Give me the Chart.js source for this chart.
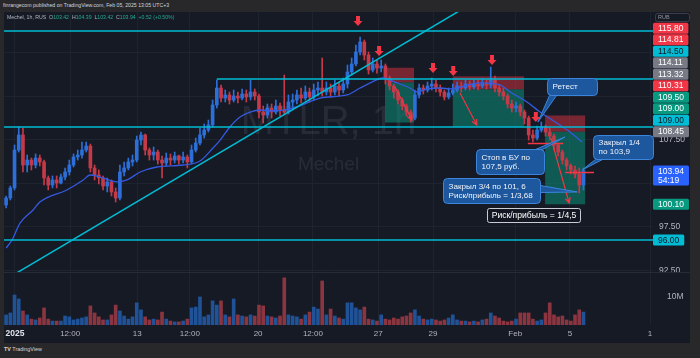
<!DOCTYPE html>
<html><head><meta charset="utf-8">
<script src="https://cdn.jsdelivr.net/npm/chart.js@4.4.1/dist/chart.umd.min.js"></script>
<style>
html,body{margin:0;padding:0;}
body{width:700px;height:358px;background:#28282b;position:relative;overflow:hidden;font-family:"Liberation Sans",Arial,sans-serif;}
#hdr{position:absolute;left:3px;top:1px;font-size:5.2px;color:#d1d4dc;line-height:9px;white-space:nowrap;}
#wrap{position:absolute;left:4px;top:12px;width:686px;height:331px;}
#c{display:block;width:686px;height:331px;}
#lg{position:absolute;left:7px;top:13px;font-size:5.2px;line-height:9px;color:#b2b5be;white-space:nowrap;}
#lg .v{color:#22ab94;}
#ft{position:absolute;left:4px;top:346px;font-size:5.4px;color:#d1d4dc;white-space:nowrap;}
</style></head>
<body>
<div id="hdr">finrangecom published on TradingView.com, Feb 05, 2025 13:05 UTC+3</div>
<div id="wrap"><canvas id="c" width="686" height="331"></canvas></div>
<div id="lg">Mechel, 1h, RUS&nbsp;&nbsp;O<span class="v">103.42</span>&nbsp;&nbsp;H<span class="v">104.39</span>&nbsp;&nbsp;L<span class="v">103.42</span>&nbsp;&nbsp;C<span class="v">103.94</span>&nbsp;&nbsp;<span class="v">+0.52 (+0.50%)</span></div>
<div id="ft"><b>TV</b> TradingView</div>
<script>
// ---------- data ----------
const opens = [100.02,100.83,101.98,106.34,108.07,104.62,105.19,104.62,105.42,104.97,
103.13,102.32,102.90,102.55,103.24,103.82,104.62,105.54,105.77,106.34,
106.80,104.28,103.47,103.13,102.21,102.67,101.52,100.83,103.82,104.28,
104.97,105.19,107.49,108.07,106.34,105.77,106.11,105.19,104.85,105.42,
105.19,105.66,105.19,105.54,104.97,106.34,107.15,108.07,108.64,109.22,
111.52,113.47,112.32,112.67,112.09,112.55,112.32,112.78,112.44,113.01,
112.55,110.71,110.37,111.17,110.71,111.40,110.94,110.71,111.86,112.09,
112.67,112.32,113.01,112.44,113.24,113.47,113.01,113.47,113.01,113.70,
113.24,113.93,115.31,116.23,117.61,118.76,117.26,115.54,116.23,115.77,
116.00,114.62,113.70,113.01,112.09,111.40,110.71,110.02,112.67,113.47,
113.24,113.70,113.93,113.47,113.01,112.44,112.90,113.24,113.70,113.47,
113.93,113.59,113.93,113.70,114.05,113.82,114.39,113.47,113.01,112.55,
111.63,111.17,111.40,110.71,110.02,108.07,107.72,108.64,108.99,108.41,
107.95,106.92,106.11,105.19,104.51,104.05,103.59,102.32];
const highs = [101.06,102.21,106.92,108.99,108.87,105.77,105.42,105.89,105.77,105.19,
103.36,103.36,103.36,103.59,104.28,105.19,105.89,106.34,107.26,107.26,
107.03,104.62,104.05,103.36,103.13,102.90,101.98,104.62,104.97,105.42,
105.77,107.95,108.41,108.18,106.57,106.69,106.34,105.66,106.00,105.89,
106.11,105.77,106.11,105.77,106.92,107.72,108.87,109.33,109.79,112.09,
114.39,113.82,113.24,113.01,113.24,113.01,113.36,113.24,114.39,113.36,
112.78,111.40,111.63,111.63,112.09,111.75,114.96,112.67,112.78,113.24,
113.47,113.70,113.47,113.93,114.16,116.92,114.16,113.93,114.39,114.16,
114.62,116.11,116.92,118.41,119.33,118.99,117.61,116.92,116.69,116.69,
116.23,114.85,113.93,113.24,112.32,111.63,110.94,113.24,113.93,113.82,
114.16,114.62,114.39,113.82,113.24,113.47,113.93,114.16,114.16,114.39,
114.28,114.39,114.39,114.51,114.39,115.88,114.85,113.82,113.47,112.78,
112.09,111.86,111.63,110.94,110.25,108.64,109.10,109.56,109.22,108.87,
108.18,107.03,106.34,105.42,104.73,104.51,104.28,104.28];
const lows = [99.68,100.60,101.75,106.11,103.82,103.82,104.05,104.28,104.51,102.32,
101.75,101.98,101.98,102.44,102.90,103.47,104.39,105.19,105.42,106.11,
103.82,102.90,102.44,101.75,101.52,101.06,100.37,100.60,103.36,104.05,
104.51,104.97,106.92,105.77,105.19,105.19,104.73,103.13,104.51,104.62,
104.85,104.73,104.85,104.28,104.73,106.11,106.92,107.72,108.41,108.99,
111.17,111.86,111.86,111.63,111.86,111.75,112.09,111.86,112.09,112.09,
110.02,109.45,110.02,110.02,110.48,110.25,110.48,110.48,110.94,111.63,
111.75,112.09,111.86,112.09,112.55,112.55,112.67,112.44,112.67,112.55,
112.90,113.47,114.96,116.00,117.26,116.69,115.08,115.31,115.19,115.31,
113.93,113.24,112.32,111.63,110.94,110.25,109.56,109.79,112.32,112.78,
113.01,113.24,113.01,112.55,112.09,112.21,112.67,113.01,113.01,113.24,
113.24,113.36,113.24,113.47,113.36,113.47,113.01,112.55,112.09,111.17,
110.71,110.71,110.25,109.33,107.49,107.26,107.49,108.41,107.95,107.49,
106.34,105.66,104.73,104.05,103.59,103.13,101.40,101.75];
const closes = [100.83,101.98,106.34,108.07,104.62,105.19,104.62,105.42,104.97,103.13,
102.32,102.90,102.55,103.24,103.82,104.62,105.54,105.77,106.34,106.80,
104.28,103.47,103.13,102.21,102.67,101.52,100.83,103.82,104.28,104.97,
105.19,107.49,108.07,106.34,105.77,106.11,105.19,104.85,105.42,105.19,
105.66,105.19,105.54,104.97,106.34,107.15,108.07,108.64,109.22,111.52,
113.47,112.32,112.67,112.09,112.55,112.32,112.78,112.44,113.01,112.55,
110.71,110.37,111.17,110.71,111.40,110.94,110.71,111.86,112.09,112.67,
112.32,113.01,112.44,113.24,113.47,113.01,113.47,113.01,113.70,113.24,
113.93,115.31,116.23,117.61,118.76,117.26,115.54,116.23,115.77,116.00,
114.62,113.70,113.01,112.09,111.40,110.71,110.02,112.67,113.47,113.24,
113.70,113.93,113.47,113.01,112.44,112.90,113.24,113.70,113.47,113.93,
113.59,113.93,113.70,114.05,113.82,114.39,113.47,113.01,112.55,111.63,
111.17,111.40,110.71,110.02,108.07,107.72,108.64,108.99,108.41,107.95,
106.92,106.11,105.19,104.51,104.05,103.59,102.32,103.94];
const volumesM = [3.6,4.3,10.7,9.3,5.0,3.6,2.1,1.8,2.5,6.1,
2.1,1.4,1.4,1.4,3.2,2.9,1.8,2.1,2.5,2.9,
6.8,4.3,2.9,1.8,1.8,3.6,7.1,5.0,3.2,2.1,
2.9,7.9,5.4,2.9,1.8,2.1,1.8,4.6,2.1,1.4,
1.1,1.1,1.4,2.1,6.1,6.4,10.0,2.9,3.6,8.6,
7.1,8.6,3.6,2.9,9.3,3.6,3.2,2.9,3.6,3.2,
7.1,6.8,3.2,2.9,2.5,3.2,16.8,3.6,3.2,2.9,
2.1,3.6,4.6,6.4,5.7,15.7,3.6,5.7,3.2,2.5,
2.1,7.9,7.9,6.1,5.4,6.4,2.1,1.8,1.4,3.6,
2.1,1.8,2.5,2.1,2.9,3.2,4.3,5.4,3.2,2.1,
1.8,2.1,1.8,1.4,1.8,2.5,3.6,1.8,1.4,1.4,
1.1,1.4,1.1,1.8,2.1,4.3,3.2,2.5,1.4,1.1,
1.4,2.1,4.3,4.3,4.3,2.1,1.4,1.8,4.3,7.9,
3.6,2.9,3.2,1.8,1.4,3.6,5.4,4.6];
const maIdx = [0,1.4,3.3,6.4,8.0,14.4,18.3,19.9,22.3,26.3,28.7,31.8,35.8,42.0,46.0,49.1,50.8,53.1,55.5,57.9,60.3,63.3,65.7,69.0,74.5,80.9,84.0,86.4,89.4,92.8,95.8,97.5,99.9,103.0,105.3,112.5,117.2,119.6,123.6,126.7,130.3,133.8,136.7];
const maVal = [95.08,96.00,97.95,99.45,100.37,101.75,102.90,103.47,103.24,102.67,102.90,103.82,104.39,104.62,105.08,106.57,107.49,108.99,110.14,110.71,110.94,110.83,110.94,111.29,112.32,112.67,113.47,114.05,114.62,114.05,113.47,113.01,113.36,113.47,113.36,114.05,113.82,113.01,111.86,110.71,109.56,108.41,107.26];
const timeTickPos = [2.1,15.2,31.1,43.6,59.8,72.8,88.3,101.3,120.8,133.8,152.8];
const timeTickText = ['2025','12:00','13','12:00','20','12:00','27','29','Feb','5','1'];
const shownPriceTicks = [92.5,95,97.5,105,107.5];
const levelValues = [120.0,114.5,109.0,96.0];
const levelStartIdx = [-0.5,50.0,-0.5,-0.5];
const trendIdx = [3.3,99.9];
const trendVal = [92.44,120.14];
const posLeftIdx = [89.9,106.0,127.9];
const posRightIdx = [96.8,122.9,137.4];
const posEntry = [114.11,113.32,108.45];
const posStop = [115.80,114.81,110.31];
const posTarget = [109.50,109.00,100.10];
const markIdx = [83.5,88.5,101.3,106.1,115.3,125.7];
const markVal = [120.60,117.15,115.20,114.85,116.11,109.56];
const redArrowFromIdx = [92.3,107.7,129.3];
const redArrowFromVal = [113.59,112.90,107.72];
const redArrowToIdx = [96.3,111.7,133.6];
const redArrowToVal = [109.79,109.22,100.25];
const redSegFromIdx = [123.8,132.6];
const redSegToIdx = [132.2,139.5];
const redSegVal = [107.15,103.82];
const calloutText = [['Ретест'],['Стоп в БУ по','107,5 руб.'],['Закрыл 3/4 по 101, 6','Риск/прибыль = 1/3,68'],['Закрыл 1/4','по 103,9']];
const calloutIdx = [128.4,111.5,103.7,139.3];
const calloutVal = [114.62,106.46,103.13,108.07];
const calloutTargetIdx = [126.2,132.6,135.5,136.7];
const calloutTargetVal = [109.56,107.84,101.52,104.05];
const riskText = 'Риск/прибыль = 1/4,5';
const riskIdx = 114.1, riskVal = 99.68;
const axisLabelValues = [115.80,114.81,114.50,114.11,113.32,110.31,109.50,109.00,109.00,108.45,100.10,96.00];
const axisLabelKinds = ['stop','stop','level','entry','entry','stop','target','level','target','entry','target','level'];
const currentPrice = 103.94;
const countdownText = '54:19';

// ---------- styles ----------
const BG = '#161a25';
const UP = '#2c6fd8', DOWN = '#c53a49';
const UPV = '#1f5296', DOWNV = '#8a3540';
const FONT = '"Liberation Sans", Arial, sans-serif';
const calloutStyle = {w:[50,68,97,60], h:[17,25,25,24], tail:[[2,17,9,17],[59,0,66,0],[97,7,97,14],[2,24,9,24]]};
const labelColors = {stop:'#f23645', target:'#089981', level:'#00bcd4', entry:'#787b86', current:'#2962ff'};

Chart.defaults.font.family = FONT;

const isUp = closes.map((c,i)=>c>=opens[i]);
const wickData = lows.map((l,i)=>({x:i, y:[l, highs[i]]}));
const bodyData = opens.map((o,i)=>({x:i, y:[o, closes[i]]}));
const volData = volumesM.map((v,i)=>({x:i, y:v}));
const maData = maIdx.map((x,i)=>({x, y:maVal[i]}));

function rr(ctx,x,y,w,h,r){ctx.beginPath();ctx.moveTo(x+r,y);ctx.arcTo(x+w,y,x+w,y+h,r);ctx.arcTo(x+w,y+h,x,y+h,r);ctx.arcTo(x,y+h,x,y,r);ctx.arcTo(x,y,x+w,y,r);ctx.closePath();}

const tvPlugin = {
  id:'tv',
  beforeDraw(chart){
    const c = chart.ctx; c.save(); c.fillStyle = BG; c.fillRect(0,0,chart.width,chart.height); c.restore();
  },
  beforeDatasetsDraw(chart){
    const {ctx, chartArea:a, scales:{x,y}} = chart;
    const X=v=>x.getPixelForValue(v), Y=v=>y.getPixelForValue(v);
    ctx.save();
    ctx.fillStyle = BG; ctx.fillRect(y.left, y.bottom, y.width, 4);
    ctx.strokeStyle = '#262b38'; ctx.lineWidth = 1;
    ctx.beginPath(); ctx.moveTo(0, Math.round(y.bottom)+0.5); ctx.lineTo(chart.width, Math.round(y.bottom)+0.5); ctx.stroke();
    ctx.beginPath(); ctx.rect(a.left, y.top, a.width, y.height); ctx.clip();
    const cx=(a.left+a.right)/2, cy=(y.top+y.bottom)/2;
    ctx.fillStyle='rgba(130,136,152,0.16)'; ctx.textAlign='center'; ctx.textBaseline='middle';
    ctx.font='40px '+FONT; ctx.fillText('MTLR, 1h', cx, cy-19);
    ctx.font='19px '+FONT; ctx.fillText('Mechel', cx, cy+23);
    for(let i=0;i<posLeftIdx.length;i++){
      const xl=X(posLeftIdx[i]), xr=X(posRightIdx[i]);
      const ye=Y(posEntry[i]), ys=Y(posStop[i]), yt=Y(posTarget[i]);
      ctx.fillStyle='rgba(242,54,69,0.45)'; ctx.fillRect(xl, ys, xr-xl, ye-ys);
      ctx.fillStyle='rgba(8,153,129,0.5)'; ctx.fillRect(xl, ye, xr-xl, yt-ye);
    }
    ctx.restore();
  },
  afterDatasetsDraw(chart){
    const {ctx, chartArea:a, scales:{x,y}} = chart;
    const X=v=>x.getPixelForValue(v), Y=v=>y.getPixelForValue(v);
    ctx.save();
    ctx.beginPath(); ctx.rect(a.left, y.top, a.width, y.height); ctx.clip();
    ctx.strokeStyle='#00bcd4'; ctx.lineWidth=1.5;
    levelValues.forEach((v,i)=>{const yy=Math.round(Y(v)); ctx.beginPath(); ctx.moveTo(X(levelStartIdx[i]), yy); ctx.lineTo(a.right, yy); ctx.stroke();});
    const x1=X(trendIdx[0]), y1=Y(trendVal[0]), x2=X(trendIdx[1]), y2=Y(trendVal[1]);
    const k=(y2-y1)/(x2-x1);
    ctx.beginPath(); ctx.moveTo(a.left, y1+k*(a.left-x1)); ctx.lineTo(a.right, y1+k*(a.right-x1)); ctx.stroke();
    ctx.strokeStyle='#f23645'; ctx.lineWidth=1.2;
    for(let i=0;i<redArrowFromIdx.length;i++){
      const ax=X(redArrowFromIdx[i]), ay=Y(redArrowFromVal[i]), bx=X(redArrowToIdx[i]), by=Y(redArrowToVal[i]);
      const ang=Math.atan2(by-ay,bx-ax);
      ctx.beginPath(); ctx.moveTo(ax,ay); ctx.lineTo(bx,by);
      ctx.moveTo(bx-6*Math.cos(ang-0.45), by-6*Math.sin(ang-0.45)); ctx.lineTo(bx,by);
      ctx.lineTo(bx-6*Math.cos(ang+0.45), by-6*Math.sin(ang+0.45)); ctx.stroke();
    }
    ctx.lineWidth=1.5;
    for(let i=0;i<redSegVal.length;i++){const yy=Math.round(Y(redSegVal[i]))+0.5; ctx.beginPath(); ctx.moveTo(X(redSegFromIdx[i]),yy); ctx.lineTo(X(redSegToIdx[i]),yy); ctx.stroke();}
    ctx.fillStyle='#f23645';
    for(let i=0;i<markIdx.length;i++){
      const mx=X(markIdx[i]), my=Y(markVal[i]);
      ctx.beginPath(); ctx.moveTo(mx,my); ctx.lineTo(mx-4.5,my-5); ctx.lineTo(mx-2,my-5); ctx.lineTo(mx-2,my-10);
      ctx.lineTo(mx+2,my-10); ctx.lineTo(mx+2,my-5); ctx.lineTo(mx+4.5,my-5); ctx.closePath(); ctx.fill();
    }
    ctx.restore();
    ctx.save();
    ctx.font='8.1px '+FONT; ctx.textBaseline='middle'; ctx.textAlign='left';
    calloutText.forEach((lines,i)=>{
      const bx=Math.round(X(calloutIdx[i]))+0.5, by=Math.round(Y(calloutVal[i]))+0.5;
      const w=calloutStyle.w[i], h=calloutStyle.h[i], t=calloutStyle.tail[i];
      const tx=X(calloutTargetIdx[i]), ty=Y(calloutTargetVal[i]);
      ctx.fillStyle='#1d579d'; ctx.strokeStyle='#3b86dc'; ctx.lineWidth=1;
      ctx.beginPath(); ctx.moveTo(bx+t[0],by+t[1]); ctx.lineTo(tx,ty); ctx.lineTo(bx+t[2],by+t[3]); ctx.closePath(); ctx.fill(); ctx.stroke();
      rr(ctx,bx,by,w,h,4); ctx.fill(); ctx.stroke();
      ctx.fillStyle='#f0f3fa';
      lines.forEach((s,j)=>ctx.fillText(s, bx+5, by+h/2+(j-(lines.length-1)/2)*9.2));
    });
    const rx=Math.round(X(riskIdx))+0.5, ry=Math.round(Y(riskVal))+0.5;
    ctx.fillStyle='#131722'; ctx.strokeStyle='#c9ccd4'; rr(ctx,rx,ry,93,14,2); ctx.fill(); ctx.stroke();
    ctx.fillStyle='#ffffff'; ctx.font='8.6px '+FONT; ctx.textAlign='center'; ctx.fillText(riskText, rx+46.5, ry+7.5);
    ctx.restore();
    ctx.save();
    ctx.font='8.5px '+FONT; ctx.textBaseline='middle'; ctx.textAlign='left';
    const items = axisLabelValues.map((v,i)=>({v, kind:axisLabelKinds[i], lines:[v.toFixed(2)]}));
    items.push({v:currentPrice, kind:'current', lines:[currentPrice.toFixed(2), countdownText]});
    items.sort((p,q)=>p.v-q.v);
    let prevTop = Infinity;
    items.forEach(it=>{
      const h = 11 + (it.lines.length-1)*9;
      let top = Y(it.v) - 5.5;
      if (top + h > prevTop - 0.5) top = prevTop - 0.5 - h;
      prevTop = top;
      const w = ctx.measureText(it.lines[0]).width + 10;
      ctx.fillStyle = labelColors[it.kind]; rr(ctx, y.left, top, w, h, 1.5); ctx.fill();
      ctx.fillStyle = it.kind==='level' ? '#131722' : '#ffffff';
      it.lines.forEach((s,j)=>ctx.fillText(s, y.left+5, top+5.8+j*9));
    });
    ctx.strokeStyle='#3a3e4a'; ctx.lineWidth=1; rr(ctx, y.left+2.5, 1.5, 34, 8, 2); ctx.stroke();
    ctx.fillStyle='#9598a1'; ctx.font='5.5px '+FONT; ctx.fillText('RUB', y.left+5, 5.8);
    ctx.restore();
  }
};

new Chart(document.getElementById('c'), {
  type:'bar',
  data:{datasets:[
    {type:'line', data:maData, borderColor:'#3559e0', borderWidth:1.3, pointRadius:0, cubicInterpolationMode:'monotone', yAxisID:'y', order:0},
    {data:bodyData, backgroundColor:isUp.map(u=>u?UP:DOWN), barThickness:3, minBarLength:1, grouped:false, yAxisID:'y', order:1},
    {data:wickData, backgroundColor:isUp.map(u=>u?UP:DOWN), barThickness:1, grouped:false, yAxisID:'y', order:2},
    {data:volData, backgroundColor:isUp.map(u=>u?UPV:DOWNV), barThickness:3, grouped:false, yAxisID:'yv', order:3}
  ]},
  options:{
    responsive:false, animation:false, devicePixelRatio:1, events:[],
    layout:{padding:0},
    plugins:{legend:{display:false}, tooltip:{enabled:false}},
    scales:{
      x:{type:'linear', min:-0.5, max:153.5, offset:false, position:'bottom',
        grid:{color:'#1e2330', offset:false, drawTicks:false}, border:{display:false},
        afterBuildTicks:s=>{s.ticks=timeTickPos.map(v=>({value:v}));},
        afterFit:s=>{s.height=18; s.paddingLeft=0; s.paddingRight=0;},
        ticks:{autoSkip:false, maxRotation:0, padding:4,
          callback:(v,i)=>timeTickText[i],
          color:c=>c.index===0?'#e0e3eb':'#b2b5be',
          font:c=>c.index===0?{size:8.5,weight:'bold'}:{size:8}}},
      y:{type:'linear', position:'right', stack:'pane', stackWeight:260, min:92.322, max:122.207,
        grid:{color:'#1e2330', drawTicks:false}, border:{display:false},
        ticks:{stepSize:2.5, includeBounds:false, padding:6, color:'#b2b5be', font:{size:8.5},
          callback:v=>shownPriceTicks.includes(v)?v.toFixed(2):''},
        afterFit:s=>{s.width=37; s.paddingTop=0; s.paddingBottom=0;}},
      yv:{type:'linear', position:'right', stack:'pane', stackWeight:53, min:0, max:18.9,
        grid:{display:false}, border:{display:false},
        afterBuildTicks:s=>{s.ticks=[{value:10}];},
        ticks:{padding:6, color:'#b2b5be', font:{size:8.5}, callback:v=>v+'M'},
        afterFit:s=>{s.width=37; s.paddingTop=0; s.paddingBottom=0;}}
    }
  },
  plugins:[tvPlugin]
});
</script>
</body></html>
